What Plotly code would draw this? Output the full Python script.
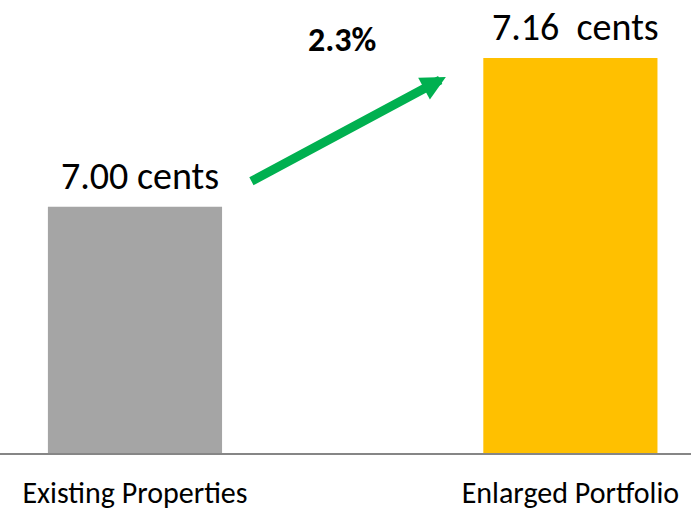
import plotly.graph_objects as go

# Distribution per unit, before and after the acquisition
categories = ["Existing Properties", "Enlarged Portfolio"]
dpu_cents = [7.00, 7.16]
bar_colors = ["#A5A5A5", "#FFC000"]
value_labels = ["7.00 cents", "7.16\u00a0\u00a0cents"]

growth_pct = (dpu_cents[1] / dpu_cents[0] - 1) * 100

FONT = "Calibri, Carlito, Lato, sans-serif"

fig = go.Figure(
    go.Bar(
        x=categories,
        y=dpu_cents,
        marker=dict(color=bar_colors, line=dict(width=0)),
        width=0.4,
        hoverinfo="skip",
    )
)

# Value labels above each bar
for cat, val, lab in zip(categories, dpu_cents, value_labels):
    fig.add_annotation(
        x=cat, y=val, xref="x", yref="y",
        text=lab, showarrow=False,
        yanchor="bottom", yshift=6, xshift=5,
        font=dict(family=FONT, size=38, color="#000000"),
    )

# Growth arrow between the two bars
fig.add_annotation(
    x=0.714, y=dpu_cents[1] - 0.0204,
    ax=0.264, ay=dpu_cents[0] + 0.0266,
    xref="x", yref="y", axref="x", ayref="y",
    text="", showarrow=True,
    arrowhead=2, arrowsize=0.55, arrowwidth=9,
    arrowcolor="#00B050",
)

# Growth percentage
fig.add_annotation(
    x=0.475, y=dpu_cents[0] + 0.1805, xref="x", yref="y",
    text=f"<b>{growth_pct:.1f}%</b>", showarrow=False,
    font=dict(family=FONT, size=34, color="#000000"),
)

fig.update_layout(
    width=691, height=509,
    margin=dict(l=0, r=0, t=0, b=56, pad=0),
    paper_bgcolor="#FFFFFF", plot_bgcolor="#FFFFFF",
    showlegend=False,
    xaxis=dict(
        range=[-0.31, 1.277],
        automargin=False,
        showline=True, linecolor="#868686", linewidth=2,
        showgrid=False, zeroline=False, ticks="",
        tickfont=dict(family=FONT, size=30, color="#000000"),
        ticklabelstandoff=12,
        fixedrange=True,
    ),
    yaxis=dict(
        range=[6.7349, 7.2225],
        automargin=False,
        visible=False, showgrid=False, zeroline=False,
        fixedrange=True,
    ),
)

fig.write_html("out.html")
